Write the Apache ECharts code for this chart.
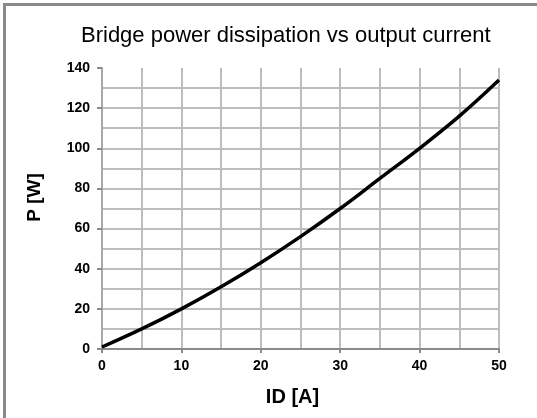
<!DOCTYPE html>
<html>
<head>
<meta charset="utf-8">
<script src="https://cdn.jsdelivr.net/npm/echarts@6/dist/echarts.min.js"></script>
<style>
  html, body { margin: 0; padding: 0; background: #fff; }
  #chart { width: 537px; height: 418px; }
</style>
</head>
<body>
<div id="chart"></div>
<script>
// output current (A) and bridge power dissipation (W)
var current = [0, 5, 10, 15, 20, 25, 30, 35, 40, 45, 50];
var power = [1, 10, 20, 31, 43, 56, 70, 85, 100, 116, 134];

var chart = echarts.init(document.getElementById('chart'));
var font = 'Liberation Sans, Arial, sans-serif';

var option = {
  animation: false,
  backgroundColor: '#fff',
  title: {
    text: 'Bridge power dissipation vs output current',
    left: 76,
    top: 20,
    textStyle: { fontFamily: font, fontSize: 22, fontWeight: 'normal', color: '#000' }
  },
  graphic: [
    { type: 'rect', shape: { x: 3, y: 3, width: 534, height: 3 }, style: { fill: '#8a8a8a' } },
    { type: 'rect', shape: { x: 3, y: 3, width: 3, height: 415 }, style: { fill: '#8a8a8a' } }
  ],
  grid: { left: 102, right: 38, top: 68, bottom: 69 },
  xAxis: {
    type: 'value',
    min: 0, max: 50, interval: 10,
    name: 'ID [A]',
    nameLocation: 'middle',
    nameGap: 38,
    nameTextStyle: { fontFamily: font, fontSize: 20, fontWeight: 'bold', color: '#000', padding: [0, 16, 0, 0] },
    axisLine: { lineStyle: { color: '#8a8a8a', width: 2 } },
    axisTick: { show: true, length: 4, lineStyle: { color: '#8a8a8a', width: 2 } },
    axisLabel: { margin: 10, fontFamily: font, fontSize: 14, fontWeight: 'bold', color: '#000' },
    splitLine: { show: true, lineStyle: { color: '#bdbdbd', width: 2 } },
    minorTick: { show: false, splitNumber: 2 },
    minorSplitLine: { show: true, lineStyle: { color: '#bdbdbd', width: 2 } }
  },
  yAxis: {
    type: 'value',
    min: 0, max: 140, interval: 20,
    name: 'P [W]',
    nameLocation: 'middle',
    nameGap: 58,
    nameTextStyle: { fontFamily: font, fontSize: 19, fontWeight: 'bold', color: '#000', padding: [0, 0, 0, 22] },
    axisLine: { show: true, lineStyle: { color: '#a8a8a8', width: 2 } },
    axisTick: { show: true, length: 5, lineStyle: { color: '#8a8a8a', width: 2 } },
    axisLabel: { margin: 12, fontFamily: font, fontSize: 14, fontWeight: 'bold', color: '#000' },
    splitLine: { show: true, showMaxLine: false, lineStyle: { color: '#bdbdbd', width: 2 } },
    minorTick: { show: false, splitNumber: 2 },
    minorSplitLine: { show: true, lineStyle: { color: '#bdbdbd', width: 2 } }
  },
  series: [{
    type: 'line',
    data: current.map(function (c, i) { return [c, power[i]]; }),
    smooth: 0.4,
    showSymbol: false,
    lineStyle: { color: '#000', width: 3.5 },
    z: 5
  }]
};

chart.setOption(option);
</script>
</body>
</html>
